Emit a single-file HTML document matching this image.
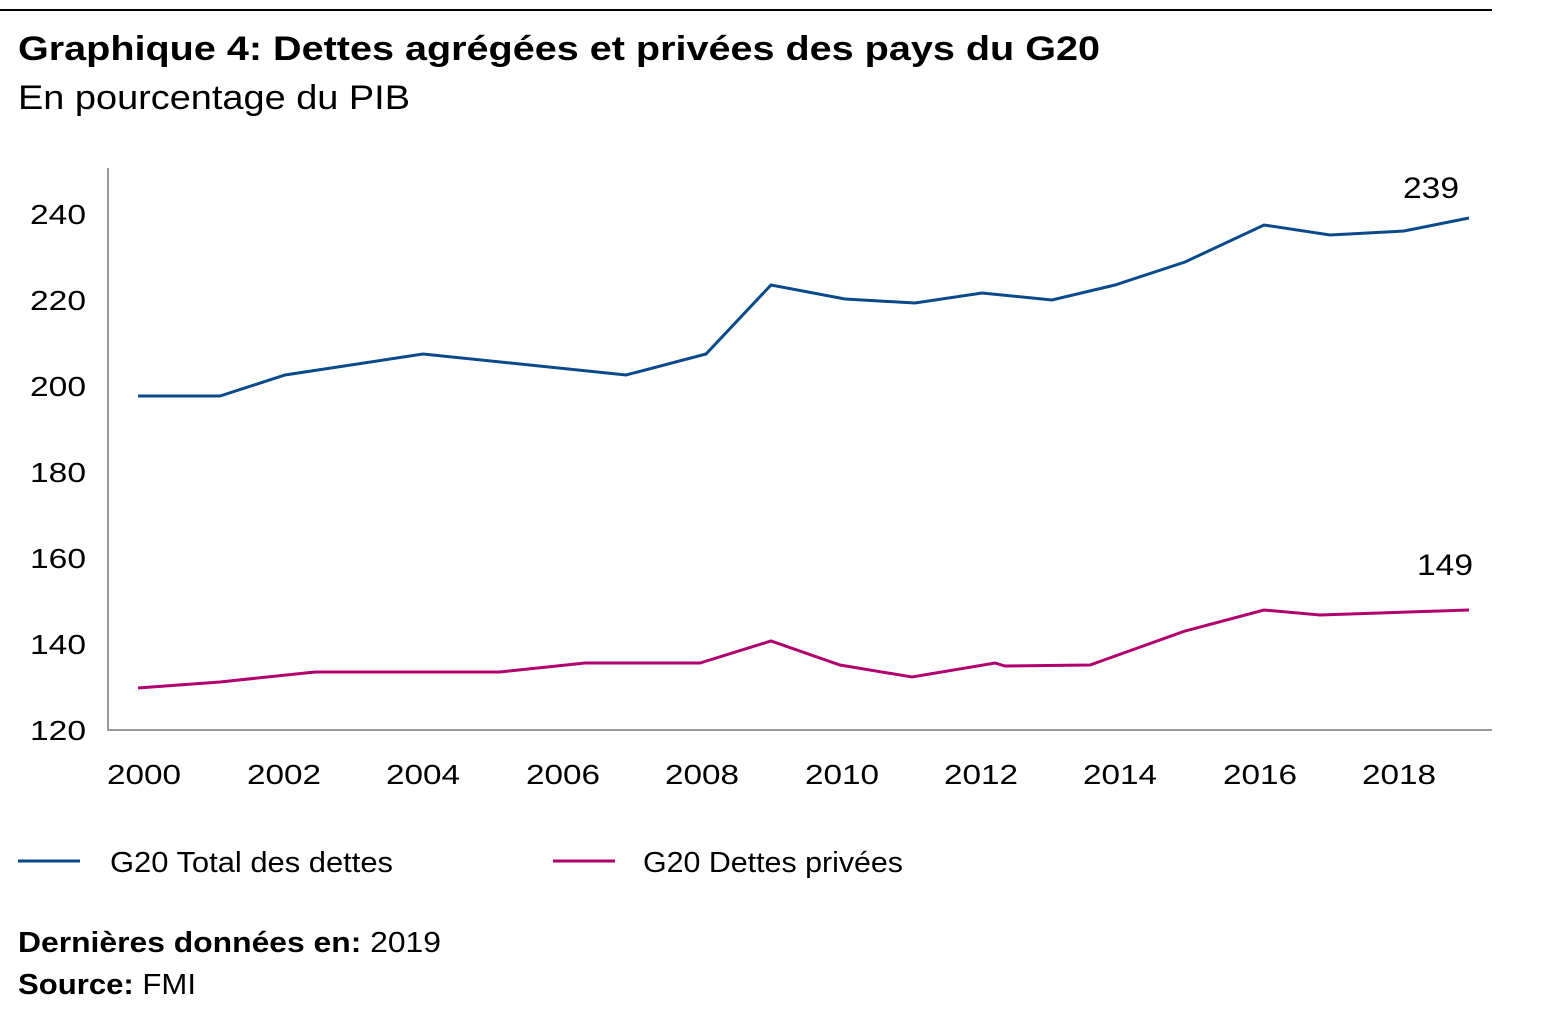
<!DOCTYPE html>
<html><head><meta charset="utf-8"><style>
html,body{margin:0;padding:0;background:#fff;}
body{width:1542px;height:1013px;overflow:hidden;font-family:"Liberation Sans",sans-serif;}
</style></head><body>
<svg width="1542" height="1013" xmlns="http://www.w3.org/2000/svg" font-family="Liberation Sans, sans-serif">
<line x1="0" y1="10" x2="1492" y2="10" stroke="#000" stroke-width="2"/>
<text x="18" y="60" font-size="34" font-weight="bold" fill="#000" textLength="1082" lengthAdjust="spacingAndGlyphs">Graphique 4: Dettes agrégées et privées des pays du G20</text>
<text x="18" y="109" font-size="34" fill="#000" textLength="392" lengthAdjust="spacingAndGlyphs">En pourcentage du PIB</text>
<line x1="108" y1="168" x2="108" y2="731" stroke="#999" stroke-width="2"/>
<line x1="108" y1="730" x2="1492" y2="730" stroke="#999" stroke-width="2"/>
<g font-size="28" fill="#000" text-anchor="end">
<text x="86" y="224" textLength="56" lengthAdjust="spacingAndGlyphs">240</text><text x="86" y="310" textLength="56" lengthAdjust="spacingAndGlyphs">220</text><text x="86" y="396" textLength="56" lengthAdjust="spacingAndGlyphs">200</text>
<text x="86" y="482" textLength="56" lengthAdjust="spacingAndGlyphs">180</text><text x="86" y="568" textLength="56" lengthAdjust="spacingAndGlyphs">160</text><text x="86" y="654" textLength="56" lengthAdjust="spacingAndGlyphs">140</text><text x="86" y="740" textLength="56" lengthAdjust="spacingAndGlyphs">120</text>
</g>
<g font-size="28" fill="#000">
<text x="107" y="784" textLength="74" lengthAdjust="spacingAndGlyphs">2000</text><text x="247" y="784" textLength="74" lengthAdjust="spacingAndGlyphs">2002</text><text x="386" y="784" textLength="74" lengthAdjust="spacingAndGlyphs">2004</text>
<text x="526" y="784" textLength="74" lengthAdjust="spacingAndGlyphs">2006</text><text x="665" y="784" textLength="74" lengthAdjust="spacingAndGlyphs">2008</text><text x="805" y="784" textLength="74" lengthAdjust="spacingAndGlyphs">2010</text>
<text x="944" y="784" textLength="74" lengthAdjust="spacingAndGlyphs">2012</text><text x="1083" y="784" textLength="74" lengthAdjust="spacingAndGlyphs">2014</text><text x="1223" y="784" textLength="74" lengthAdjust="spacingAndGlyphs">2016</text>
<text x="1362" y="784" textLength="74" lengthAdjust="spacingAndGlyphs">2018</text>
</g>
<polyline fill="none" stroke="#0a4a8a" stroke-width="3" points="138,396 220,396 285,375 423,354 626,375 706,354 771,285 845,299 915,303 982,293 1052,300 1115,285 1185,262 1264,225 1330,235 1404,231 1469,218"/>
<polyline fill="none" stroke="#b0006e" stroke-width="3" points="138,688 220,682 315,672 500,672 585,663 700,663 771,641 840,665 912,677 995,663 1005,666 1090,665 1185,631 1264,610 1320,615 1469,610"/>
<text x="1403" y="198" font-size="30" textLength="56" lengthAdjust="spacingAndGlyphs">239</text>
<text x="1417" y="575" font-size="30" textLength="56" lengthAdjust="spacingAndGlyphs">149</text>
<line x1="18" y1="861" x2="80" y2="861" stroke="#0a4a8a" stroke-width="3"/>
<text x="110" y="872" font-size="29" textLength="283" lengthAdjust="spacingAndGlyphs">G20 Total des dettes</text>
<line x1="553" y1="861" x2="615" y2="861" stroke="#b0006e" stroke-width="3"/>
<text x="643" y="872" font-size="29" textLength="260" lengthAdjust="spacingAndGlyphs">G20 Dettes privées</text>
<text x="18" y="952" font-size="29" textLength="423" lengthAdjust="spacingAndGlyphs"><tspan font-weight="bold">Dernières données en:</tspan> 2019</text>
<text x="18" y="994" font-size="29" textLength="178" lengthAdjust="spacingAndGlyphs"><tspan font-weight="bold">Source:</tspan> FMI</text>
</svg>
</body></html>
